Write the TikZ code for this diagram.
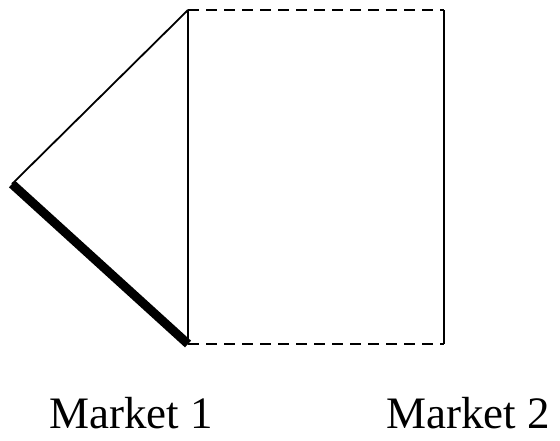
\documentclass[tikz,border=0pt]{standalone}
\usepackage{fontspec}
\setmainfont{Liberation Serif}
\usetikzlibrary{positioning}

\begin{document}
\begin{tikzpicture}[x=1pt, y=-1pt]
    \tikzstyle{thinline} = [line width=1.8pt, black]
    \tikzstyle{thickline} = [line width=9pt, black, line cap=butt]
    \tikzstyle{dashline} = [line width=2.2pt, black, dash pattern=on 10.5pt off 7.5pt]
    \tikzstyle{market} = [inner sep=0pt, anchor=base, font=\fontsize{45}{50}\selectfont]

    \useasboundingbox (0,0) rectangle (560,440);

    \coordinate (left) at (12,184);
    \coordinate (top) at (188,10);
    \coordinate (bottom) at (188,344);
    \coordinate (topright) at (444,10);
    \coordinate (bottomright) at (444,344);

    \node (m1) [market] at (131,428) {Market 1};
    \node (m2) [market] at (468,428) {Market 2};

    \draw [thinline] (left) -- (top);
    \draw [thinline] (top) -- (bottom);
    \draw [thickline] (left) -- (bottom);
    \draw [dashline] (top) -- (topright);
    \draw [dashline] (bottom) -- (bottomright);
    \draw [thinline] (topright) -- (bottomright);
\end{tikzpicture}
\end{document}
